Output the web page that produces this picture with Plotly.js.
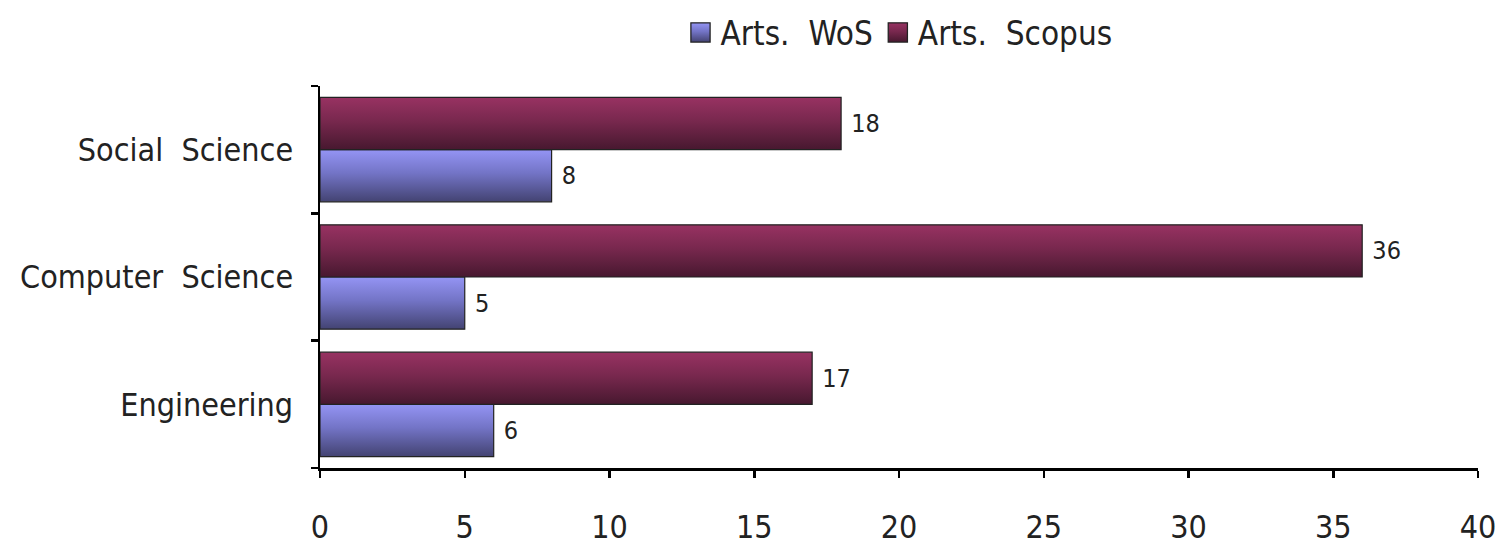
<!DOCTYPE html>
<html>
<head>
<meta charset="utf-8">
<script src="https://cdn.plot.ly/plotly-3.0.1.min.js"></script>
<style>
html,body{margin:0;padding:0;background:#fff;}
#chart{width:1509px;height:546px;}
</style>
</head>
<body>
<div id="chart"></div>
<script>
// Data
const categories = ["Engineering", "Computer\u00a0\u00a0Science", "Social\u00a0\u00a0Science"];
const wosValues = [6, 5, 8];
const scopusValues = [17, 36, 18];
const seriesNames = ["Arts.\u00a0\u00a0WoS", "Arts.\u00a0\u00a0Scopus"];
const xTicks = [0, 5, 10, 15, 20, 25, 30, 35, 40];

const FONT = '"DejaVu Sans Condensed", "Liberation Sans Narrow", "DejaVu Sans", sans-serif';

const traces = [
  {
    type: 'bar', orientation: 'h', name: seriesNames[0],
    y: categories, x: wosValues,
    text: wosValues.map(v => '\u00a0' + v), textposition: 'outside',
    textfont: {family: FONT, size: 25, color: '#222'},
    marker: {color: '#6f70c0', line: {color: '#222', width: 1.2}},
    cliponaxis: false, hoverinfo: 'x+y'
  },
  {
    type: 'bar', orientation: 'h', name: seriesNames[1],
    y: categories, x: scopusValues,
    text: scopusValues.map(v => '\u00a0' + v), textposition: 'outside',
    textfont: {family: FONT, size: 25, color: '#222'},
    marker: {color: '#702248', line: {color: '#222', width: 1.2}},
    cliponaxis: false, hoverinfo: 'x+y'
  }
];

const layout = {
  width: 1509, height: 546,
  margin: {l: 320, r: 31, t: 86, b: 78, autoexpand: false},
  paper_bgcolor: '#fff', plot_bgcolor: '#fff',
  font: {family: FONT, size: 30, color: '#222'},
  barmode: 'group', bargap: 0.18, bargroupgap: 0,
  showlegend: true,
  legend: {
    orientation: 'h', x: 0.5, xanchor: 'center', y: 1.14, yanchor: 'middle',
    font: {family: FONT, size: 33, color: '#222'},
    itemwidth: 30, tracegroupgap: 0
  },
  xaxis: {
    range: [0, 40], tickvals: xTicks, ticktext: xTicks.map(String),
    showline: true, linecolor: '#000', linewidth: 2.5,
    ticks: 'outside', ticklen: 7, tickwidth: 2.5, tickcolor: '#000',
    showgrid: false, zeroline: false,
    ticklabelstandoff: 22,
    tickfont: {family: FONT, size: 32, color: '#222'},
    fixedrange: true
  },
  yaxis: {
    type: 'category', range: [-0.5, 2.5],
    showline: true, linecolor: '#000', linewidth: 2.5,
    ticks: 'outside', ticklen: 7, tickwidth: 2.5, tickcolor: '#000',
    tickson: 'boundaries',
    showgrid: false, zeroline: false,
    ticklabelstandoff: 18,
    tickfont: {family: FONT, size: 32, color: '#222'},
    fixedrange: true
  }
};

const gradStops = [
  [['0%', '#9494f4'], ['45%', '#7374c6'], ['100%', '#434372']],
  [['0%', '#983262'], ['45%', '#78284e'], ['100%', '#47182f']]
];

function applyGradients(gd) {
  const svg = gd.querySelector('svg.main-svg');
  if (!svg) return;
  let defs = svg.querySelector('defs');
  const NS = 'http://www.w3.org/2000/svg';
  if (!defs) { defs = document.createElementNS(NS, 'defs'); svg.insertBefore(defs, svg.firstChild); }
  gradStops.forEach((stops, i) => {
    const id = 'barGrad' + i;
    if (!document.getElementById(id)) {
      const g = document.createElementNS(NS, 'linearGradient');
      g.setAttribute('id', id);
      g.setAttribute('x1', '0'); g.setAttribute('y1', '0');
      g.setAttribute('x2', '0'); g.setAttribute('y2', '1');
      stops.forEach(s => {
        const st = document.createElementNS(NS, 'stop');
        st.setAttribute('offset', s[0]);
        st.setAttribute('stop-color', s[1]);
        g.appendChild(st);
      });
      defs.appendChild(g);
    }
  });
  gd.querySelectorAll('.barlayer .trace.bars').forEach((tr, i) => {
    tr.querySelectorAll('.point path').forEach(p => { p.style.fill = 'url(#barGrad' + i + ')'; });
  });
  gd.querySelectorAll('.legend .traces').forEach((tr, i) => {
    tr.querySelectorAll('.legendpoints path').forEach(p => {
      p.style.fill = 'url(#barGrad' + i + ')';
      const t = p.getAttribute('transform') || '';
      if (t.indexOf('scale') < 0) p.setAttribute('transform', (t + ' scale(1.6)').trim());
      p.style.strokeWidth = '0.8px';
    });
  });
}

const gd = document.getElementById('chart');
Plotly.newPlot(gd, traces, layout, {displayModeBar: false, staticPlot: true}).then(() => {
  applyGradients(gd);
  gd.on('plotly_afterplot', () => applyGradients(gd));
});
</script>
</body>
</html>
